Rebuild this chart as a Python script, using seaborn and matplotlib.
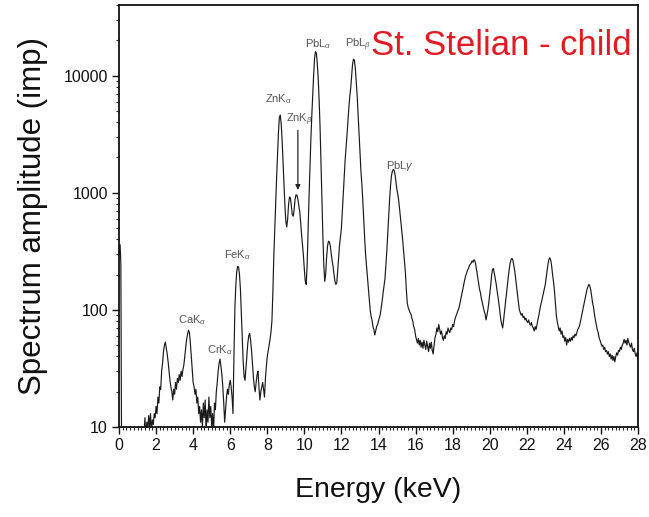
import numpy as np
import pandas as pd
import matplotlib
matplotlib.use("Agg")
import matplotlib.pyplot as plt
import seaborn as sns
from matplotlib.ticker import LogLocator, FixedLocator, MultipleLocator, NullFormatter

# ---- data ----
# low-energy spike near 0 keV
spike_energy = [0.0, 0.06, 0.10, 0.14, 1.0, 1.30]
spike_counts = [300, 360, 250, 5, 5, 8]

# spectrum on 0.05 keV grid starting at 1.35 keV
grid_start = 1.35
grid_step = 0.05
counts = [
    9, 12, 8, 11, 9.5, 12.5, 10, 13, 9, 11.5, 10.5, 13, 12, 15, 13, 18, 16, 22, 21, 30,
    35, 44, 50, 53, 47, 42, 36, 30, 25, 22, 20, 17, 21, 19, 24, 21, 26, 24, 28, 25,
    30, 27, 31, 34, 40, 48, 56, 62, 67, 64, 52, 40, 30, 24, 22, 19, 21, 16, 18, 13,
    15, 11, 14, 10, 16, 12, 17, 9, 14, 11, 18, 12, 15, 10, 13, 9, 16, 14, 20, 24,
    30, 35, 38, 33, 28, 22, 16, 11, 14, 18, 21, 19, 23, 25, 22, 18, 13, 40, 100, 160,
    210, 235, 232, 200, 150, 95, 58, 36, 27, 25, 32, 42, 52, 60, 63, 55, 45, 35, 27, 22,
    20, 24, 28, 30, 22, 17, 20, 22, 24, 21, 18, 26, 33, 40, 45, 50, 56, 65, 80, 140,
    280, 470, 800, 1300, 2000, 3200, 4400, 4600, 3900, 2800, 1850, 1200, 780, 570, 510, 600, 800, 920, 900, 760,
    650, 630, 720, 880, 960, 950, 880, 780, 690, 560, 440, 360, 290, 220, 175, 165, 240, 480, 900, 1600,
    2800, 4500, 6700, 10000, 14000, 16000, 15500, 12500, 9300, 6000, 3500, 1700, 850, 420, 240, 175, 200, 280, 350, 385,
    380, 350, 300, 260, 235, 200, 175, 165, 170, 220, 290, 360, 420, 500, 700, 1000, 1400, 1900, 2400, 3100,
    4100, 5300, 6600, 7800, 10000, 12500, 13800, 13500, 11500, 8800, 6700, 4600, 3200, 2200, 1550, 1200, 870, 600, 420, 300,
    240, 190, 150, 120, 100, 88, 82, 72, 68, 61, 66, 72, 75, 80, 86, 92, 105, 120, 140, 160,
    185, 240, 320, 450, 620, 880, 1150, 1400, 1530, 1580, 1540, 1400, 1200, 1050, 950, 830, 700, 580, 480, 400,
    320, 260, 210, 150, 115, 105, 100, 95, 92, 85, 80, 72, 68, 60, 56, 52, 57, 50, 55, 48,
    53, 47, 55, 50, 46, 54, 49, 44, 52, 47, 53, 45, 42, 50, 58, 62, 70, 65, 75, 68,
    62, 66, 58, 55, 60, 57, 65, 62, 70, 66, 64, 70, 68, 75, 72, 80, 86, 90, 95, 100,
    105, 115, 125, 138, 150, 165, 180, 195, 205, 218, 225, 238, 245, 250, 262, 255, 268, 262, 240, 215,
    190, 170, 150, 140, 125, 115, 105, 98, 92, 82, 90, 100, 115, 135, 160, 195, 222, 225, 205, 185,
    165, 145, 128, 112, 95, 82, 75, 70, 82, 98, 115, 135, 160, 190, 220, 250, 268, 275, 265, 240,
    215, 185, 160, 135, 115, 100, 95, 90, 93, 86, 88, 82, 85, 80, 78, 82, 76, 74, 78, 72,
    70, 66, 72, 68, 75, 82, 90, 100, 110, 118, 128, 140, 150, 165, 190, 220, 250, 272, 278, 262,
    230, 195, 170, 140, 110, 88, 78, 72, 66, 70, 62, 66, 58, 60, 54, 58, 50, 56, 53, 57,
    54, 58, 55, 60, 58, 62, 60, 64, 68, 70, 74, 80, 88, 96, 105, 115, 125, 138, 150, 158,
    165, 160, 148, 130, 115, 105, 92, 82, 75, 68, 64, 58, 55, 52, 49, 50, 46, 48, 44, 45,
    42, 44, 40, 42, 38, 41, 37, 40, 36, 40, 43, 41, 45, 44, 48, 46, 50, 52, 56, 52,
    55, 50, 57, 53, 50, 48, 52, 46, 44, 47, 42, 40, 43, 38,
]

# peak labels: (text, energy, counts)
label_texts = ["PbL$_\\alpha$", "PbL$_\\beta$", "ZnK$_\\alpha$", "ZnK$_\\beta$",
               "FeK$_\\alpha$", "CaK$_\\alpha$", "CrK$_\\alpha$", "PbL$\\gamma$"]
label_energy = [10.73, 12.89, 8.63, 9.71, 6.42, 3.94, 5.45, 15.16]
label_counts = [18400, 18400, 6240, 4200, 295, 82, 45.5, 1700]

x_ticks = [0, 2, 4, 6, 8, 10, 12, 14, 16, 18, 20, 22, 24, 26, 28]
y_ticks = [10, 100, 1000, 10000]
y_tick_labels = ["10", "100", "1000", "10000"]

title_text = "St. Stelian - child"

# ---- build table ----
grid_energy = [round(grid_start + grid_step * i, 3) for i in range(len(counts))]
df = pd.DataFrame({
    "Energy": list(spike_energy) + grid_energy,
    "Counts": list(spike_counts) + counts,
})

sns.set_style("ticks")
plt.rcParams["font.family"] = ["Liberation Sans", "DejaVu Sans"]
plt.rcParams["mathtext.fontset"] = "custom"
plt.rcParams["mathtext.rm"] = "Liberation Sans"
plt.rcParams["mathtext.it"] = "Liberation Sans:italic"

fig = plt.figure(figsize=(6.49, 5.17), dpi=100)
ax = fig.add_axes([119 / 649, 90 / 517, (638 - 119) / 649, (427 - 5) / 517])

sns.lineplot(data=df, x="Energy", y="Counts", ax=ax, color="#1a1a1a",
             linewidth=0.85, sort=False, estimator=None)

ax.set_yscale("log")
ax.set_xlim(0, 28)
ax.set_ylim(10, 40000)

ax.xaxis.set_major_locator(FixedLocator(x_ticks))
ax.xaxis.set_minor_locator(MultipleLocator(0.2))
ax.set_xticklabels([str(t) for t in x_ticks])
ax.yaxis.set_major_locator(FixedLocator(y_ticks))
ax.set_yticklabels(y_tick_labels)
ax.yaxis.set_minor_locator(LogLocator(base=10, subs=np.arange(2, 10)))
ax.yaxis.set_minor_formatter(NullFormatter())

ax.tick_params(axis="both", which="major", direction="out", length=5, width=1.0,
               labelsize=11.5, colors="#111111", pad=3)
ax.tick_params(axis="both", which="minor", direction="out", length=2.5, width=0.8)

for s in ax.spines.values():
    s.set_visible(True)
    s.set_linewidth(1.3)
    s.set_color("#111111")

ax.set_xlabel("Energy (keV)", fontsize=20.5, labelpad=17, color="#111111")
ax.set_ylabel("Spectrum amplitude (imp)", fontsize=22.5, labelpad=11, color="#111111")

for t, e, c in zip(label_texts, label_energy, label_counts):
    ax.text(e, c, t, fontsize=8, color="#555555", ha="center", va="center")

ax.annotate("", xy=(9.65, 1000), xytext=(9.65, 3600),
            arrowprops=dict(arrowstyle="-|>", color="#222222", lw=0.9,
                            mutation_scale=7))

ax.text(0.988, 0.905, title_text, transform=ax.transAxes, fontsize=25,
        color="#e01b24", ha="right", va="center")

fig.savefig("out.png", dpi=100, facecolor="white")
